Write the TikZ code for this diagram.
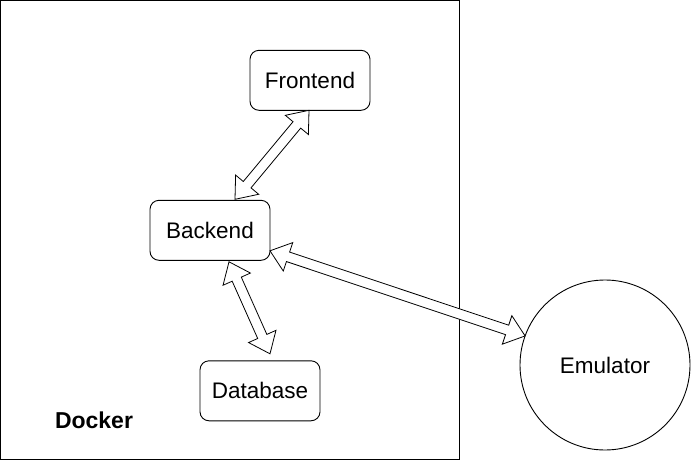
\documentclass[tikz,border=0pt]{standalone}
\usepackage{fontspec}
\setmainfont{Liberation Sans}
\usetikzlibrary{calc}
\tikzset{
  box/.style={draw, rounded corners=9pt, minimum width=120pt, minimum height=60pt, inner sep=0pt, outer sep=0pt, line width=0.9pt, font=\fontsize{22.5}{26}\selectfont},
  flexstyle/.style={draw, fill=white, line width=0.8pt, line join=miter},
  circ/.style={draw, circle, minimum size=170pt, inner sep=0pt, outer sep=0pt, line width=0.9pt, font=\fontsize{22.5}{26}\selectfont},
  frame/.style={draw, line width=1pt, minimum width=459pt, minimum height=459pt, inner sep=0pt, outer sep=0pt}
}
\newcommand{\flexarr}[2]{%
  \path ($(#1)!19pt!(#2)$) coordinate (fa1) ($(#2)!19pt!(#1)$) coordinate (fa2);
  \draw[flexstyle] (#1) -- ($(fa1)!15pt!90:(#2)$) -- ($(fa1)!5pt!90:(#2)$)
    -- ($(fa2)!5pt!-90:(#1)$) -- ($(fa2)!15pt!-90:(#1)$) -- (#2)
    -- ($(fa2)!15pt!90:(#1)$) -- ($(fa2)!5pt!90:(#1)$)
    -- ($(fa1)!5pt!-90:(#2)$) -- ($(fa1)!15pt!-90:(#2)$) -- cycle;}
\begin{document}
\begin{tikzpicture}[x=1pt, y=-1pt]
  \useasboundingbox (0,0) rectangle (691,461);
  \node[frame] (docker) at (230,230) {};
  \node[font=\bfseries\fontsize{23}{27}\selectfont] (dlabel) at (94,420) {Docker};
  \node[box] (fe) at (310,80.3) {Frontend};
  \node[box] (be) at (210,230.3) {Backend};
  \node[box] (db) at (260,390.8) {Database};
  \node[circ] (em) at (605,365) {Emulator};
  \coordinate (p1) at ($(fe.south)+(-1,0)$);
  \coordinate (p2) at ($(be.north)+(25,-1)$);
  \coordinate (p3) at ($(be.south)+(19,1.5)$);
  \coordinate (p4) at ($(db.north)+(10,-7)$);
  \coordinate (p5) at ($(be.east)+(0,20.5)$);
  \coordinate (p6) at (em.160.7);
  \flexarr{p1}{p2}
  \flexarr{p3}{p4}
  \flexarr{p5}{p6}
\end{tikzpicture}
\end{document}
